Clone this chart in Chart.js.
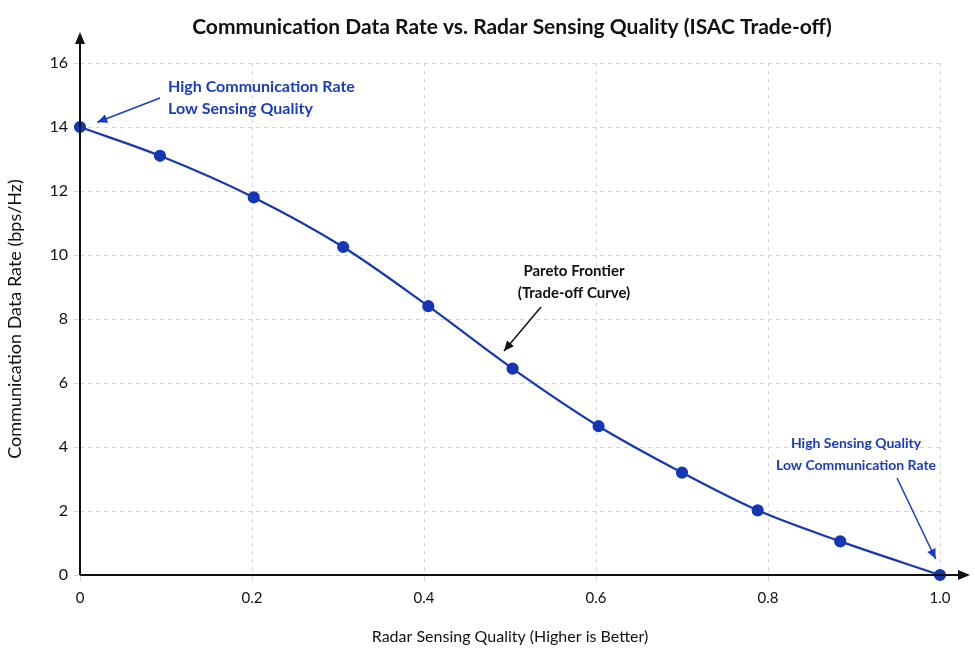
<!DOCTYPE html>
<html>
<head>
<meta charset="utf-8">
<script src="https://cdn.jsdelivr.net/npm/chart.js@4"></script>
<style>
  body { margin: 0; background: #fff; }
  #wrap { width: 975px; height: 650px; }
</style>
</head>
<body>
<div id="wrap"><canvas id="chart"></canvas></div>
<script>
// Sensing quality vs data rate
const sensingQuality = [0, 0.093, 0.202, 0.306, 0.405, 0.503, 0.603, 0.700, 0.788, 0.884, 1.0];
const dataRate = [14, 13.1, 11.8, 10.25, 8.4, 6.45, 4.65, 3.2, 2.02, 1.05, 0];

const lineBlue = '#1537b5';
const textBlue = '#1a3cc2';
const fontFam = 'Lato, "Open Sans", sans-serif';

// Titles, annotations and axis arrows
const decorPlugin = {
    id: 'decor',
    afterDraw(chart) {
        const ctx = chart.ctx;
        const xs = chart.scales.x, ys = chart.scales.y;
        const area = chart.chartArea;

        function arrowHead(x, y, ang, len, w, color) {
            ctx.save();
            ctx.fillStyle = color;
            ctx.translate(x, y);
            ctx.rotate(ang);
            ctx.beginPath();
            ctx.moveTo(0, 0);
            ctx.lineTo(-len, -w);
            ctx.lineTo(-len, w);
            ctx.closePath();
            ctx.fill();
            ctx.restore();
        }
        function arrow(x1, y1, x2, y2, color) {
            ctx.save();
            ctx.strokeStyle = color;
            ctx.lineWidth = 1.5;
            ctx.beginPath();
            ctx.moveTo(x1, y1);
            ctx.lineTo(x2, y2);
            ctx.stroke();
            ctx.restore();
            arrowHead(x2, y2, Math.atan2(y2 - y1, x2 - x1), 10, 4.5, color);
        }
        function lines(arr, x, y, color, align, size) {
            ctx.save();
            ctx.fillStyle = color;
            ctx.font = 'bold ' + size + 'px ' + fontFam;
            ctx.textAlign = align;
            ctx.textBaseline = 'middle';
            arr.forEach((t, i) => ctx.fillText(t, x, y + i * 22));
            ctx.restore();
        }

        // Title
        ctx.save();
        ctx.fillStyle = '#111';
        ctx.font = 'bold 21px ' + fontFam;
        ctx.textAlign = 'center';
        ctx.textBaseline = 'middle';
        ctx.fillText('Communication Data Rate vs. Radar Sensing Quality (ISAC Trade-off)', 512, 27);
        ctx.restore();

        // Axis lines with arrows
        ctx.save();
        ctx.strokeStyle = '#111';
        ctx.lineWidth = 2;
        ctx.beginPath();
        ctx.moveTo(area.left, area.bottom);
        ctx.lineTo(area.left, 38);
        ctx.moveTo(area.left, area.bottom);
        ctx.lineTo(962, area.bottom);
        ctx.stroke();
        ctx.restore();
        arrowHead(area.left, 32, -Math.PI / 2, 12, 5, '#111');
        arrowHead(970, area.bottom, 0, 12, 5, '#111');

        // Annotations
        lines(['High Communication Rate', 'Low Sensing Quality'], 168, 87, textBlue, 'left', 16);
        arrow(160, 98, xs.getPixelForValue(0.02), ys.getPixelForValue(14.15), textBlue);

        lines(['Pareto Frontier', '(Trade-off Curve)'], 574, 271, '#111', 'center', 15);
        arrow(541, 307, xs.getPixelForValue(0.493), ys.getPixelForValue(7.0), '#111');

        lines(['High Sensing Quality', 'Low Communication Rate'], 856, 443, textBlue, 'center', 14);
        arrow(897, 478, xs.getPixelForValue(0.995), ys.getPixelForValue(0.5), textBlue);
    }
};

new Chart(document.getElementById('chart'), {
    type: 'line',
    data: {
        datasets: [{
            data: sensingQuality.map((x, i) => ({ x: x, y: dataRate[i] })),
            borderColor: lineBlue,
            backgroundColor: lineBlue,
            borderWidth: 2.2,
            pointRadius: 5,
            pointHoverRadius: 5,
            cubicInterpolationMode: 'monotone',
            clip: false
        }]
    },
    options: {
        responsive: true,
        maintainAspectRatio: false,
        animation: false,
        layout: { padding: { top: 63, right: 35, left: 0, bottom: 0 } },
        plugins: {
            legend: { display: false },
            tooltip: { enabled: false }
        },
        scales: {
            x: {
                type: 'linear',
                min: 0, max: 1,
                ticks: {
                    stepSize: 0.2,
                    color: '#111',
                    font: { family: fontFam, size: 15 },
                    padding: 8,
                    callback: v => (v === 0 ? '0' : v.toFixed(1))
                },
                grid: { color: '#d6d6d6', tickLength: 6, drawTicks: true },
                border: { display: false, dash: [4, 4] },
                title: {
                    display: true,
                    text: 'Radar Sensing Quality (Higher is Better)',
                    color: '#111',
                    font: { family: fontFam, size: 16 },
                    padding: { top: 4 }
                },
                afterFit: s => { s.height = 75; }
            },
            y: {
                min: 0, max: 16,
                ticks: {
                    stepSize: 2,
                    color: '#111',
                    font: { family: fontFam, size: 16 },
                    padding: 6
                },
                grid: { color: '#d6d6d6', tickLength: 6 },
                border: { display: false, dash: [4, 4] },
                title: {
                    display: true,
                    text: 'Communication Data Rate (bps/Hz)',
                    color: '#111',
                    font: { family: fontFam, size: 18 },
                    padding: { bottom: 4 }
                },
                afterFit: s => { s.width = 80; }
            }
        }
    },
    plugins: [decorPlugin]
});
</script>
</body>
</html>
